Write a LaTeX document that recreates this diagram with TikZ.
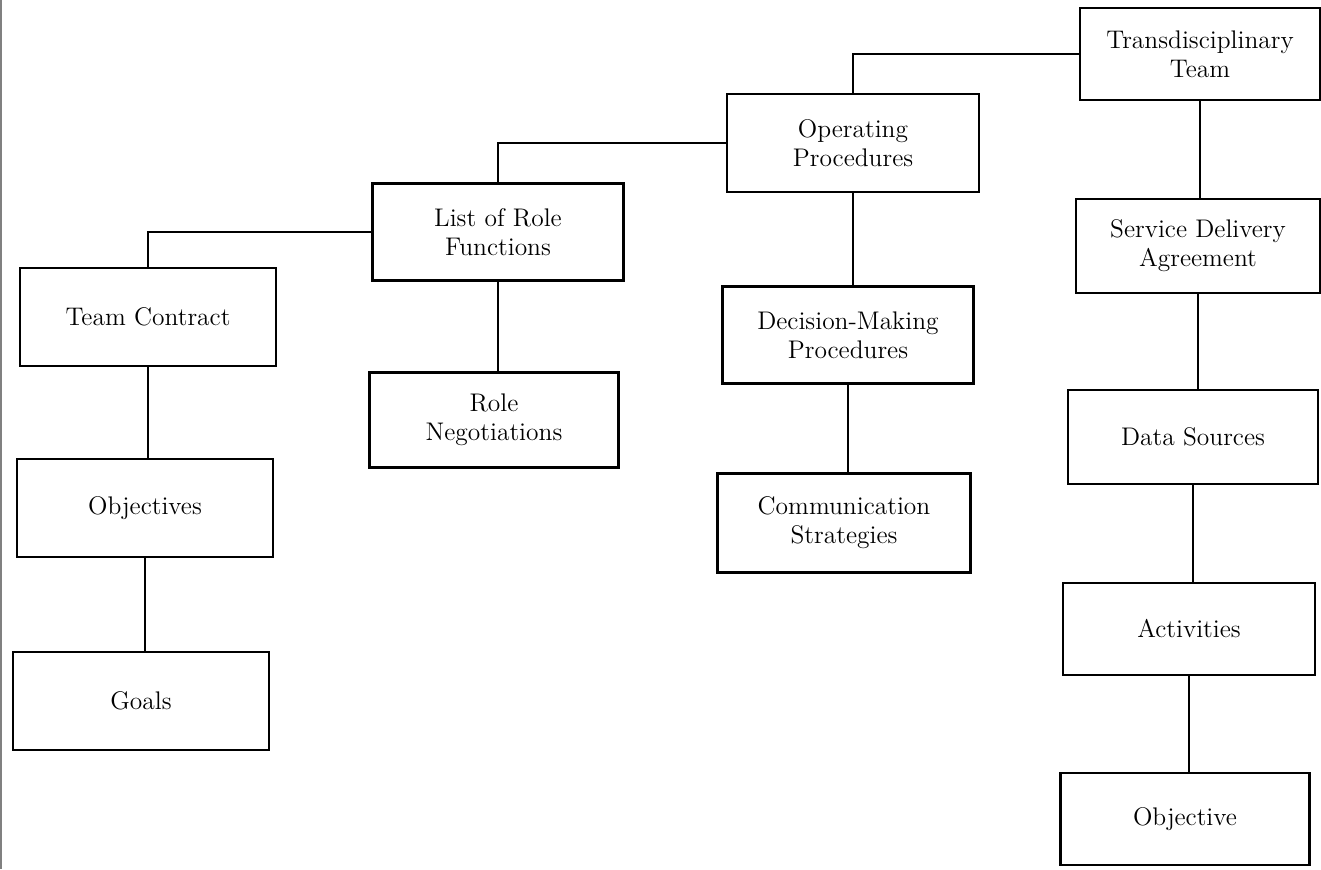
\documentclass[tikz,border=0pt]{standalone}
\begin{document}
\begin{tikzpicture}[x=0.02cm,y=-0.02cm,
    box/.style={draw,line width=1.3pt,align=center,inner sep=0pt,
      font=\fontsize{14.5}{16.5}\selectfont},
    link/.style={line width=1pt}]
    \useasboundingbox (0,0) rectangle (1321,869);
    \draw[gray,line width=0.6pt] (1,0) -- (1,869);
    % right column
    \node[box,minimum width=4.8cm,minimum height=1.84cm] (trans) at (1200,54) {Transdisciplinary\\Team};
    \node[box,minimum width=4.88cm,minimum height=1.88cm] (service) at (1198,246) {Service Delivery\\Agreement};
    \node[box,minimum width=5cm,minimum height=1.88cm] (data) at (1193,437) {Data Sources};
    \node[box,minimum width=5.04cm,minimum height=1.84cm] (activ) at (1189,629) {Activities};
    \node[box,minimum width=4.98cm,minimum height=1.84cm] (objective) at (1185,819) {Objective};
    % procedures
    \node[box,minimum width=5.04cm,minimum height=1.96cm] (oper) at (853,143) {Operating\\Procedures};
    \node[box,minimum width=5.02cm,minimum height=1.94cm] (decide) at (848,335) {Decision-Making\\Procedures};
    \node[box,minimum width=5.06cm,minimum height=1.98cm] (comm) at (844,523) {Communication\\Strategies};
    % roles
    \node[box,minimum width=5.02cm,minimum height=1.94cm] (roles) at (498,232) {List of Role\\Functions};
    \node[box,minimum width=4.98cm,minimum height=1.9cm] (negot) at (494,420) {Role\\Negotiations};
    % contract
    \node[box,minimum width=5.12cm,minimum height=1.96cm] (contract) at (148,317) {Team Contract};
    \node[box,minimum width=5.12cm,minimum height=1.96cm] (objs) at (145,508) {Objectives};
    \node[box,minimum width=5.12cm,minimum height=1.96cm] (goals) at (141,701) {Goals};
    % connectors
    \draw[link] (trans.west) -| (oper.north);
    \draw[link] (oper.west) -| (roles.north);
    \draw[link] (roles.west) -| (contract.north);
    \draw[link] (trans.south) -- (trans.south |- service.north);
    \draw[link] (service.south) -- (service.south |- data.north);
    \draw[link] (data.south) -- (data.south |- activ.north);
    \draw[link] (activ.south) -- (activ.south |- objective.north);
    \draw[link] (oper.south) -- (oper.south |- decide.north);
    \draw[link] (decide.south) -- (decide.south |- comm.north);
    \draw[link] (roles.south) -- (roles.south |- negot.north);
    \draw[link] (contract.south) -- (contract.south |- objs.north);
    \draw[link] (objs.south) -- (objs.south |- goals.north);
\end{tikzpicture}
\end{document}
